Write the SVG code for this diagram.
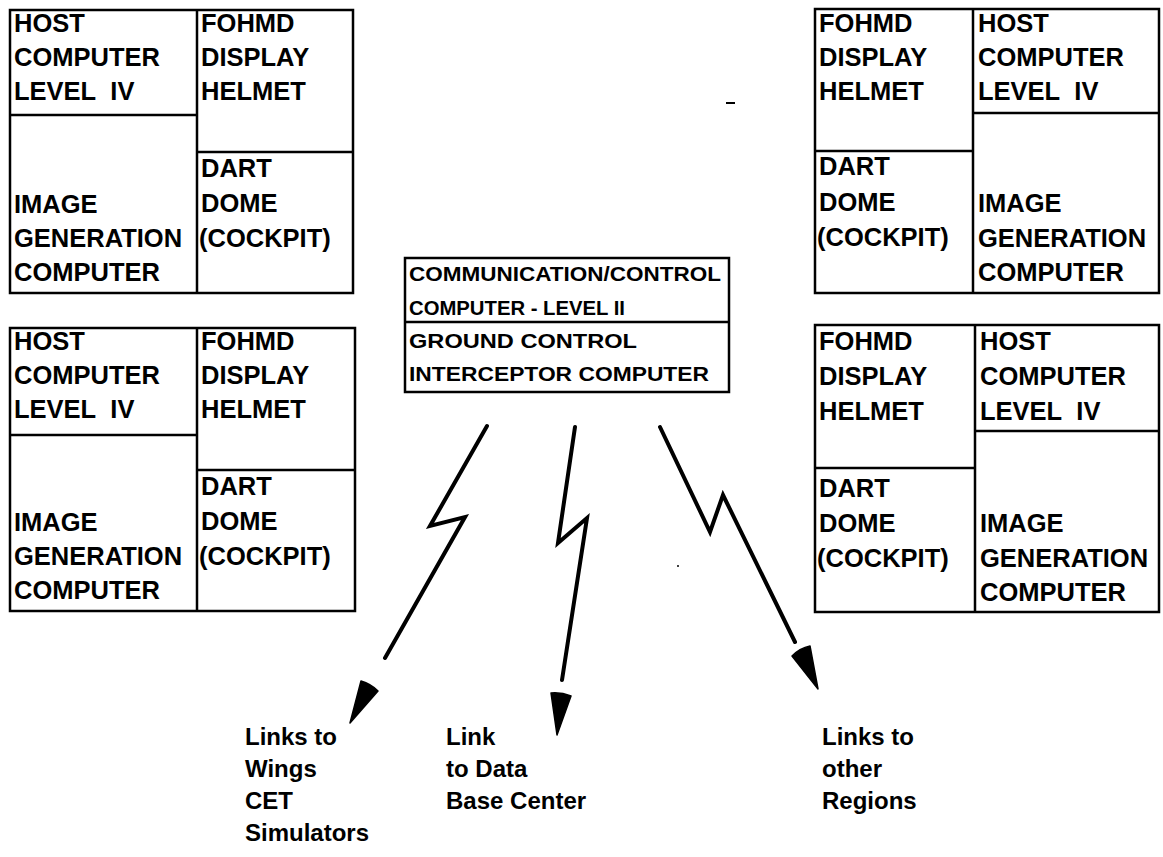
<svg xmlns="http://www.w3.org/2000/svg" width="1163" height="857" viewBox="0 0 1163 857">
<style>
.box{fill:none;stroke:#000;stroke-width:2.5}
.div{stroke:#000;stroke-width:2.5;fill:none}
.t{font-family:"Liberation Sans",Arial,Helvetica,sans-serif;font-weight:bold;font-size:25.5px;fill:#000}
.c{font-family:"Liberation Sans",Arial,Helvetica,sans-serif;font-weight:bold;font-size:21px;fill:#000}
.l{font-family:"Liberation Sans",Arial,Helvetica,sans-serif;font-weight:bold;font-size:24px;fill:#000}
.bolt{fill:none;stroke:#000;stroke-width:4;stroke-linejoin:miter;stroke-linecap:round}
.head{fill:#000;stroke:#000;stroke-width:1.5;stroke-linejoin:round}
</style>
<rect width="1163" height="857" fill="#fff"/>

<g id="cluster-top-left">
<rect class="box" x="10" y="10" width="343" height="283"/>
<path class="div" d="M197,10V293M10,115H197M197,152H353"/>
<text class="t" x="14" y="32">HOST</text>
<text class="t" x="14" y="66">COMPUTER</text>
<text class="t" x="14" y="100">LEVEL&#160; IV</text>
<text class="t" x="14" y="213">IMAGE</text>
<text class="t" x="14" y="247">GENERATION</text>
<text class="t" x="14" y="281">COMPUTER</text>
<text class="t" x="201" y="32">FOHMD</text>
<text class="t" x="201" y="66">DISPLAY</text>
<text class="t" x="201" y="100">HELMET</text>
<text class="t" x="201" y="177">DART</text>
<text class="t" x="201" y="212">DOME</text>
<text class="t" x="199" y="247">(COCKPIT)</text>
</g>

<g id="cluster-bottom-left">
<rect class="box" x="10" y="328" width="345" height="283"/>
<path class="div" d="M197,328V611M10,435H197M197,470H355"/>
<text class="t" x="14" y="350">HOST</text>
<text class="t" x="14" y="384">COMPUTER</text>
<text class="t" x="14" y="418">LEVEL&#160; IV</text>
<text class="t" x="14" y="531">IMAGE</text>
<text class="t" x="14" y="565">GENERATION</text>
<text class="t" x="14" y="599">COMPUTER</text>
<text class="t" x="201" y="350">FOHMD</text>
<text class="t" x="201" y="384">DISPLAY</text>
<text class="t" x="201" y="418">HELMET</text>
<text class="t" x="201" y="495">DART</text>
<text class="t" x="201" y="530">DOME</text>
<text class="t" x="199" y="565">(COCKPIT)</text>
</g>

<g id="cluster-top-right">
<rect class="box" x="815" y="9" width="344" height="284"/>
<path class="div" d="M973,9V293M815,151H973M973,113H1159"/>
<text class="t" x="819" y="32">FOHMD</text>
<text class="t" x="819" y="66">DISPLAY</text>
<text class="t" x="819" y="100">HELMET</text>
<text class="t" x="819" y="175">DART</text>
<text class="t" x="819" y="211">DOME</text>
<text class="t" x="817" y="246">(COCKPIT)</text>
<text class="t" x="978" y="32">HOST</text>
<text class="t" x="978" y="66">COMPUTER</text>
<text class="t" x="978" y="100">LEVEL&#160; IV</text>
<text class="t" x="978" y="212">IMAGE</text>
<text class="t" x="978" y="247">GENERATION</text>
<text class="t" x="978" y="281">COMPUTER</text>
</g>

<g id="cluster-bottom-right">
<rect class="box" x="815" y="325" width="344" height="287"/>
<path class="div" d="M975,325V612M815,468H975M975,431H1159"/>
<text class="t" x="819" y="350">FOHMD</text>
<text class="t" x="819" y="385">DISPLAY</text>
<text class="t" x="819" y="420">HELMET</text>
<text class="t" x="819" y="497">DART</text>
<text class="t" x="819" y="532">DOME</text>
<text class="t" x="817" y="567">(COCKPIT)</text>
<text class="t" x="980" y="350">HOST</text>
<text class="t" x="980" y="385">COMPUTER</text>
<text class="t" x="980" y="420">LEVEL&#160; IV</text>
<text class="t" x="980" y="532">IMAGE</text>
<text class="t" x="980" y="567">GENERATION</text>
<text class="t" x="980" y="601">COMPUTER</text>
</g>

<g id="center-computer">
<rect class="box" x="405" y="258" width="324" height="134"/>
<path class="div" d="M405,322H729"/>
<text class="c" x="409" y="281" textLength="312" lengthAdjust="spacingAndGlyphs">COMMUNICATION/CONTROL</text>
<text class="c" x="409" y="315" textLength="216" lengthAdjust="spacingAndGlyphs">COMPUTER - LEVEL II</text>
<text class="c" x="409" y="348" textLength="228" lengthAdjust="spacingAndGlyphs">GROUND CONTROL</text>
<text class="c" x="409" y="381" textLength="300" lengthAdjust="spacingAndGlyphs">INTERCEPTOR COMPUTER</text>
</g>

<g id="connectors">
<path class="bolt" d="M487,426L430,526L465,517L385,658"/>
<path class="head" d="M361,681Q371,684 378,691L350,723Z"/>
<path class="bolt" d="M575,427L558,543L587,518L562,680"/>
<path class="head" d="M551,693Q561,692 571,696L557,735Z"/>
<path class="bolt" d="M660,427L710,532L723,495L795,642"/>
<path class="head" d="M792,656Q800,648 810,646L818,689Z"/>
</g>

<g id="marks">
<path d="M726,103H735" stroke="#000" stroke-width="2"/>
<circle cx="678" cy="566" r="1" fill="#000"/>
</g>

<g id="labels">
<text class="l" x="245" y="745">Links to</text>
<text class="l" x="245" y="777">Wings</text>
<text class="l" x="245" y="809">CET</text>
<text class="l" x="245" y="841">Simulators</text>
<text class="l" x="446" y="745">Link</text>
<text class="l" x="446" y="777">to Data</text>
<text class="l" x="446" y="809">Base Center</text>
<text class="l" x="822" y="745">Links to</text>
<text class="l" x="822" y="777">other</text>
<text class="l" x="822" y="809">Regions</text>
</g>
</svg>
